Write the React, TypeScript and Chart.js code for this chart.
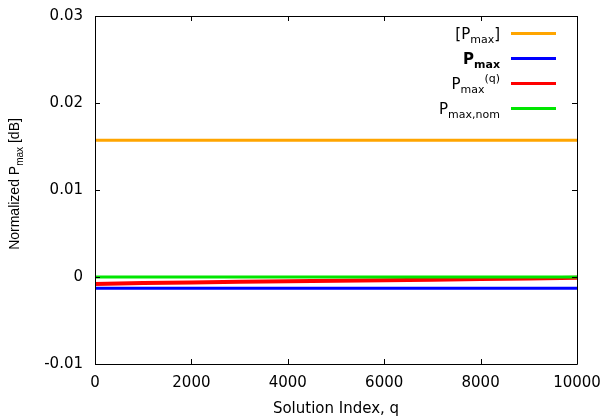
import React, { useEffect, useRef } from "react";
import { Chart, registerables } from "chart.js";

Chart.register(...registerables);

// ---- data ----
const qValues = [0, 1000, 2000, 3000, 4000, 5000, 6000, 7000, 8000, 9000, 10000];
const pmaxInterval = [0.01573, 0.01573, 0.01573, 0.01573, 0.01573, 0.01573, 0.01573, 0.01573, 0.01573, 0.01573, 0.01573];
const pmaxBold = [-0.00128, -0.00128, -0.00128, -0.00128, -0.00128, -0.00128, -0.00128, -0.00128, -0.00128, -0.00128, -0.00128];
const pmaxQ = [-0.0008, -0.0007, -0.00062, -0.00055, -0.00049, -0.00043, -0.00037, -0.00031, -0.00024, -0.00017, -0.00008];
const pmaxNom = [0, 0, 0, 0, 0, 0, 0, 0, 0, 0, 0];

const xTickValues = [0, 2000, 4000, 6000, 8000, 10000];
const xTickLabels = ["0", "2000", "4000", "6000", "8000", "10000"];
const yTickValues = [-0.01, 0, 0.01, 0.02, 0.03];
const yTickLabels = ["-0.01", "0", "0.01", "0.02", "0.03"];

const seriesColors = ["#ffa500", "#0000ff", "#ff0000", "#00e600"];

type Seg = { t: string; sub?: boolean; sup?: boolean; b?: boolean };
const legendLabels: Seg[][] = [
  [{ t: "[P" }, { t: "max", sub: true }, { t: "]" }],
  [{ t: "P", b: true }, { t: "max", sub: true, b: true }],
  [{ t: "P" }, { t: "max", sub: true }, { t: "(q)", sup: true }],
  [{ t: "P" }, { t: "max,nom", sub: true }],
];
const yTitle: Seg[] = [{ t: "Normalized P" }, { t: "max", sub: true }, { t: " [dB]" }];
const xTitle = "Solution Index, q";

const FONT = "'DejaVu Sans', sans-serif";
const FONT_V = "'Liberation Sans', Arial, sans-serif";

function segFont(s: Seg, family: string, main: number, small: number) {
  return `${s.b ? "bold " : ""}${s.sub || s.sup ? small : main}px ${family}`;
}

function measureRich(ctx: CanvasRenderingContext2D, segs: Seg[], family: string, main: number, small: number) {
  let w = 0;
  for (const s of segs) {
    ctx.font = segFont(s, family, main, small);
    w += ctx.measureText(s.t).width;
  }
  return w;
}

function drawRich(ctx: CanvasRenderingContext2D, segs: Seg[], x: number, y: number, family: string, main: number, small: number) {
  let cx = x;
  ctx.textBaseline = "alphabetic";
  ctx.textAlign = "left";
  for (const s of segs) {
    ctx.font = segFont(s, family, main, small);
    const dy = s.sub ? 4 : s.sup ? -7 : 0;
    ctx.fillText(s.t, cx, y + dy);
    cx += ctx.measureText(s.t).width;
  }
}

const framePlugin = {
  id: "frameTicksLegend",
  afterDraw(chart: any) {
    const ctx: CanvasRenderingContext2D = chart.ctx;
    const { left, right, top, bottom } = chart.chartArea;
    const xs = chart.scales.x;
    const ys = chart.scales.y;
    ctx.save();
    ctx.strokeStyle = "#000";
    ctx.lineWidth = 1;
    ctx.beginPath();
    ctx.rect(Math.round(left) + 0.5, Math.round(top) + 0.5, Math.round(right - left), Math.round(bottom - top));
    ctx.stroke();
    const tl = 5;
    ctx.beginPath();
    for (const v of xTickValues) {
      const px = Math.round(xs.getPixelForValue(v)) + 0.5;
      ctx.moveTo(px, bottom);
      ctx.lineTo(px, bottom - tl);
      ctx.moveTo(px, top);
      ctx.lineTo(px, top + tl);
    }
    for (const v of yTickValues) {
      const py = Math.round(ys.getPixelForValue(v)) + 0.5;
      ctx.moveTo(left, py);
      ctx.lineTo(left + tl, py);
      ctx.moveTo(right, py);
      ctx.lineTo(right - tl, py);
    }
    ctx.stroke();

    // legend
    ctx.fillStyle = "#000";
    const lineR = right - 21;
    const lineL = lineR - 45;
    const textR = lineL - 11;
    legendLabels.forEach((segs, i) => {
      const ly = top + 17.5 + i * 25;
      ctx.strokeStyle = chart.data.datasets[i].borderColor;
      ctx.lineWidth = 3;
      ctx.beginPath();
      ctx.moveTo(lineL, ly);
      ctx.lineTo(lineR, ly);
      ctx.stroke();
      const w = measureRich(ctx, segs, FONT, 15, 11);
      drawRich(ctx, segs, textR - w, ly + 5, FONT, 15, 11);
    });

    // y title (rotated)
    const tw = measureRich(ctx, yTitle, FONT_V, 14, 10);
    ctx.translate(18.5, (top + bottom) / 2 - 6);
    ctx.rotate(-Math.PI / 2);
    drawRich(ctx, yTitle, -tw / 2, 0, FONT_V, 14, 10);
    ctx.restore();
  },
};

export default function App() {
  const ref = useRef<HTMLCanvasElement>(null);
  useEffect(() => {
    if (!ref.current) return;
    const mk = (label: string, data: number[], color: string, order: number, width: number) => ({
      label,
      data: qValues.map((q, i) => ({ x: q, y: data[i] })),
      borderColor: color,
      backgroundColor: color,
      borderWidth: width,
      pointRadius: 0,
      tension: 0,
      order,
    });
    const chart = new Chart(ref.current, {
      type: "line",
      data: {
        datasets: [
          mk("[Pmax]", pmaxInterval, seriesColors[0], 3, 3),
          mk("Pmax", pmaxBold, seriesColors[1], 2, 3),
          mk("Pmax(q)", pmaxQ, seriesColors[2], 1, 4),
          mk("Pmax,nom", pmaxNom, seriesColors[3], 0, 3),
        ],
      },
      options: {
        animation: false,
        responsive: false,
        layout: { padding: { top: 16, right: 26, left: 0, bottom: 0 } },
        plugins: { legend: { display: false }, tooltip: { enabled: false } },
        scales: {
          x: {
            type: "linear",
            min: 0,
            max: 10000,
            grid: { display: false, drawTicks: false },
            border: { display: false },
            afterBuildTicks: (s: any) => {
              s.ticks = xTickValues.map((v) => ({ value: v }));
            },
            afterFit: (s: any) => {
              s.height = 54;
              s.paddingLeft = 0;
              s.paddingRight = 0;
            },
            ticks: {
              padding: 10,
              color: "#000",
              font: { family: FONT, size: 15 },
              maxRotation: 0,
              callback: (_v: any, i: number) => xTickLabels[i],
            },
            title: {
              display: true,
              text: xTitle,
              color: "#000",
              font: { family: FONT, size: 15 },
              padding: { top: 0, bottom: 0 },
            },
          },
          y: {
            type: "linear",
            min: -0.01,
            max: 0.03,
            grid: { display: false, drawTicks: false },
            border: { display: false },
            afterBuildTicks: (s: any) => {
              s.ticks = yTickValues.map((v) => ({ value: v }));
            },
            afterFit: (s: any) => {
              s.width = 95;
              s.paddingTop = 0;
              s.paddingBottom = 0;
            },
            ticks: {
              padding: 12,
              color: "#000",
              font: { family: FONT, size: 15 },
              callback: (_v: any, i: number) => yTickLabels[i],
            },
          },
        },
      },
      plugins: [framePlugin],
    } as any);
    return () => chart.destroy();
  }, []);
  return (
    <div style={{ position: "absolute", left: 0, top: 0, width: 603, height: 418, background: "#fff" }}>
      <canvas ref={ref} width={603} height={418} style={{ display: "block" }} />
    </div>
  );
}
